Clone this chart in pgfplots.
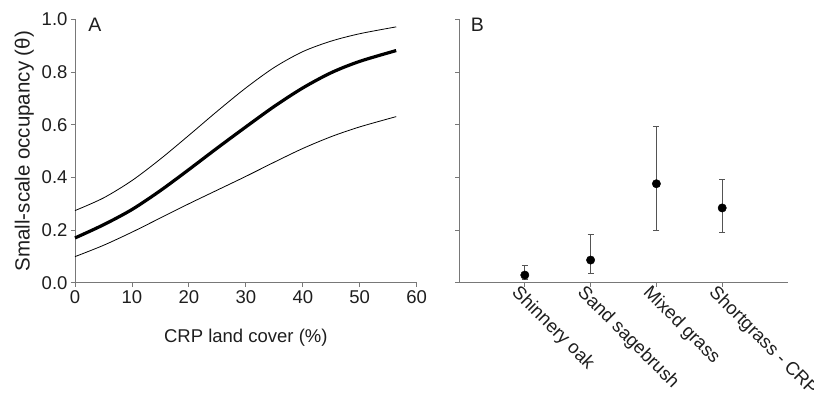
\documentclass[border=0pt]{standalone}
\usepackage{pgfplots}
\pgfplotsset{compat=1.18}
\usepackage{fontspec}
\setmainfont{Liberation Sans}
\definecolor{axgray}{RGB}{120,120,120}
\definecolor{txt}{RGB}{30,30,30}
\begin{document}
\begin{tikzpicture}
\useasboundingbox (0pt,0pt) rectangle (814pt,399pt);
\pgfplotsset{
  common/.style={
    scale only axis,
    axis lines=left,
    axis line style={-, draw=axgray, line width=0.8pt},
    tick style={draw=axgray, line width=0.8pt},
    tick align=outside,
    major tick length=4pt,
    ymin=0, ymax=1,
    ytick={0,0.2,0.4,0.6,0.8,1.0},
    height=263.2pt,
    tick label style={font=\fontsize{18.5}{20}\selectfont, text=txt},
    label style={font=\fontsize{18.5}{20}\selectfont, text=txt},
    clip=false,
  }
}
\begin{axis}[common,
  at={(75pt,116.3pt)}, anchor=south west,
  width=341.7pt,
  xmin=0, xmax=60,
  xtick={0,10,...,60},
  yticklabel style={/pgf/number format/.cd, fixed, fixed zerofill, precision=1, assume math mode=true},
  xticklabel style={/pgf/number format/assume math mode=true},
  xlabel={CRP land cover (\%)},
  ylabel={Small-scale occupancy (θ)},
  ylabel style={yshift=1pt, font=\fontsize{20.5}{22}\selectfont},
  xlabel style={yshift=-19pt},
]
\addplot[black, line width=3.2pt, smooth] coordinates {
(0,0.170) (5,0.220) (10,0.278) (15,0.350) (20,0.430) (25,0.512) (30,0.592) (35,0.670) (40,0.740) (45,0.798) (50,0.841) (56.4,0.882)};
\addplot[black, line width=0.8pt, smooth] coordinates {
(0,0.274) (5,0.322) (10,0.388) (15,0.470) (20,0.560) (25,0.652) (30,0.740) (35,0.818) (40,0.878) (45,0.918) (50,0.946) (56.4,0.972)};
\addplot[black, line width=0.8pt, smooth] coordinates {
(0,0.099) (5,0.142) (10,0.192) (15,0.246) (20,0.300) (25,0.352) (30,0.404) (35,0.458) (40,0.510) (45,0.555) (50,0.592) (56.4,0.631)};
\node[font=\fontsize{19.5}{21}\selectfont, text=txt] at (axis cs:3.5,0.98) {A};
\end{axis}
\begin{axis}[common,
  at={(459pt,116.3pt)}, anchor=south west,
  width=329pt,
  xmin=-1, xmax=4,
  xtick={0,1,2,3},
  xticklabels={Shinnery oak, Sand sagebrush, Mixed grass, Shortgrass - CRP},
  xticklabel style={rotate=-45, anchor=north west, inner sep=1pt, xshift=-6pt},
  yticklabels={},
]
\addplot[only marks, mark=*, mark size=4.2pt, black,
  error bars/.cd, y dir=both, y explicit,
  error bar style={draw=axgray!70!black, line width=0.8pt},
  error mark options={draw=axgray!70!black, rotate=90, mark size=3pt, line width=0.8pt}]
coordinates {
(0,0.029) += (0,0.036) -= (0,0.017)
(1,0.086) += (0,0.098) -= (0,0.050)
(2,0.376) += (0,0.216) -= (0,0.177)
(3,0.284) += (0,0.110) -= (0,0.092)
};
\node[font=\fontsize{19.5}{21}\selectfont, text=txt] at (axis cs:-0.72,0.98) {B};
\end{axis}
\end{tikzpicture}
\end{document}
